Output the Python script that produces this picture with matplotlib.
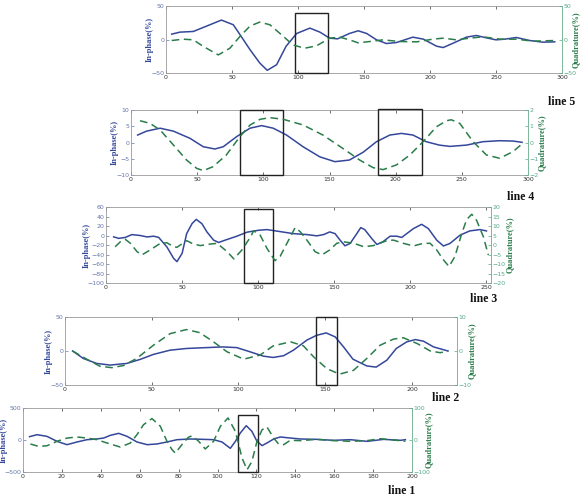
"""Five stacked in-phase / quadrature panels (line 1 .. line 5)."""
import matplotlib.pyplot as plt
from matplotlib.patches import Rectangle

BLUE = "#34479a"
GREEN = "#2a7d4a"

# ---- line 5 ----
l5_ix = [4.3, 10.6, 20.7, 29.5, 42, 51, 57, 63.6, 71, 76.7, 83.8, 91, 99, 109, 116.6, 124, 130,
         139, 145.6, 152, 159.5, 167, 174.6, 187, 195, 205, 210, 217.5, 227.6, 235, 242.7, 250,
         256.6, 265.5, 275.5, 285.6, 294.5]
l5_iy = [8, 11, 12, 19, 29, 22, 4.5, -15, -35, -46, -37.6, -10, 9, 17, 11, 2, 1,
         9, 13, 9, -0.5, -6, -4.5, 3.5, 0.5, -10, -12, -5.5, 3.5, 6, 2.5, -0.5,
         0.5, 3, -1.5, -4, -3.5]
l5_qx = [4.3, 13, 20.7, 28, 39.6, 48.4, 56, 63.6, 71, 78.7, 89, 96, 105, 114, 124, 131.7, 139,
         145.6, 154.4, 164.5, 177, 190, 202, 210, 220, 230, 240, 253, 265.5, 278, 294.5]
l5_qy = [-1.5, 0.5, -0.5, -10, -23, -13, 4.5, 20, 26, 22, 4.5, -8, -13, -9.5, 2, 3.5, -0.5,
         -5, -3, -0.5, -3, -3.5, 0.5, 2, -0.5, 2, 4, 0.5, 0.5, -2.5, -1.5]

# ---- line 4 ----
l4_ix = [5, 11.8, 22, 32, 44.5, 54.6, 63.4, 69.7, 79.8, 89.9, 98.7, 107.5, 117.5, 130, 142.6,
         154, 165, 175.4, 185.5, 195.6, 204.4, 213, 223, 233, 241, 253.5, 266, 278.6, 288.7, 295.5]
l4_iy = [2.3, 3.5, 4.4, 3.5, 1.3, -1.3, -2, -1.3, 1.8, 4.4, 5.2, 4.4, 2.3, -1.3, -4.4,
         -5.9, -5.4, -3, 0.25, 2.3, 2.8, 2.3, 0.25, -0.8, -1.2, -0.8, 0.25, 0.55, 0.45, 0.05]
l4_qx = [6.8, 14.3, 22, 32, 42, 49.6, 54.6, 62, 72, 82.3, 90, 97.6, 105, 115, 130, 145, 160,
         172.8, 183, 190.5, 200.6, 210.7, 220.7, 230.8, 238.4, 242, 248.4, 258.5, 268.6, 278.6,
         288.7, 296]
l4_qy = [1.34, 1.18, 0.77, -0.15, -1.08, -1.59, -1.73, -1.49, -0.77, 0.36, 1.08, 1.43, 1.53,
         1.43, 1.08, 0.46, -0.36, -1.08, -1.55, -1.67, -1.38, -0.77, 0.05, 0.97, 1.34, 1.4,
         1.18, 0.05, -0.77, -0.97, -0.56, -0.05]

# ---- line 3 ----
l3_ix = [5, 8.3, 12.7, 17, 22.5, 27, 31.3, 34.6, 40, 44.4, 46.6, 50, 53, 56.5, 59.3, 63, 66.3,
         70.7, 74, 78.3, 86, 92.6, 100, 105.7, 114.4, 123, 132, 138.5, 143, 147, 150.5, 153.8,
         157, 160.4, 164.8, 167.4, 170, 174.6, 178, 182, 186.7, 191, 194.3, 197.6, 202, 207.4,
         211.8, 217.3, 221.7, 226, 232.6, 239, 245.7, 250]
l3_iy = [-2.8, -6, -4, 2, 0, -3, -1.4, -4, -24, -48, -55, -37.6, 4, 25, 34, 25, 7.6,
         -9.7, -14.6, -9.7, -1.4, 7, 11, 12.5, 8.3, 4, 2, -0.7, 2, 7.6, 4, -9.7,
         -21.6, -16.7, 4, 16.7, 12.5, -6.3, -18.8, -13, -1.4, -1.4, -4, 4, 14.6, 23.6,
         14.6, -9.7, -22, -16.7, 0.7, 9.7, 12.5, 9.7]
l3_qx = [6, 9.4, 12.7, 16, 20.4, 23.6, 29, 35.7, 40, 44.4, 46.6, 51, 53, 57.5, 62, 68.5, 73,
         79.6, 84, 89.3, 95, 97, 101.3, 105.7, 111, 114.4, 120, 124.3, 127.6, 132, 137.4, 141.8,
         147, 151.6, 156, 162.8, 169.4, 175.7, 184.5, 188.8, 195.4, 202, 208.5, 213, 217.3,
         221.7, 225.4, 229.3, 233.7, 237, 240.3, 243.5, 248, 251.2]
l3_qy = [-0.9, 1.7, 3, 0.9, -3.5, -5.2, -2.6, 0.9, 1.2, -0.9, -1.2, 1.2, 2.3, 0.5, -0.3, 0.5,
         0.9, -3.5, -7.3, -2.6, 4.3, 7.5, 5.2, -1.7, -8.2, -6, 2.6, 9.2, 7, 2.6, -3.5, -5.2,
         -2.6, 0.9, 1.7, 0.9, -0.9, -0.3, 2.3, 2.6, 0.9, -0.5, 0.9, 0.9, -2.6,
         -7.8, -11.3, -6, 6, 13.4, 16.2, 13, 4.3, -5.2]

# ---- line 2 ----
l2_ix = [4.4, 10.6, 18.3, 26, 35.6, 43.3, 51, 60.6, 70, 81.7, 91, 99, 106.7, 114.4, 120, 126,
         131.7, 139.4, 145, 150.6, 155.8, 160.6, 166, 174, 179.4, 185.6, 191, 197, 202, 206.7,
         212.5, 220.8]
l2_iy = [0, -11, -18.3, -20.7, -18.3, -12.4, -5, 1.2, 3.7, 5, 6, 5, -1.2, -7.6, -9.5, -7,
         1.2, 15.9, 23, 26.6, 20.7, 6, -12, -22, -23.7, -13.4, 3.7, 13.4, 16.8, 14.4,
         6, 0]
l2_qx = [4.4, 12.5, 20.2, 27, 33.6, 41.3, 51, 60.6, 70, 77.7, 85.6, 93.3, 103, 112.5, 120, 130,
         137.5, 143.3, 151, 158.3, 166.3, 174, 181.7, 189.4, 195, 203, 210.6, 216.3, 221]
l2_qy = [0, -2.4, -4.5, -4.9, -4.3, -2.2, 1.7, 5.1, 6.3, 5.4, 2.7, -0.2, -2.4, -1.2, 1.5, 2.7,
         1.5, -1.7, -5.2, -6.8, -5.7, -2.2, 1.7, 3.5, 3.9, 2.2, 0, -0.5, 0]

# ---- line 1 ----
l1_ix = [3.4, 7.2, 12.3, 17.5, 22.6, 27.8, 32.9, 38, 41.5, 44.9, 49.2, 53.5, 58.6, 63.8, 68.9,
         74, 79.2, 86, 92.9, 98, 102.3, 106.6, 109.2, 111.7, 114.8, 117.7, 120.3, 122.9, 125.4,
         128.9, 132.3, 137.4, 142.6, 151, 159.7, 168.3, 176.9, 185.4, 194, 196.6]
l1_iy = [52, 83, 57, -21, -73, -31, 5, 16, 31, 73, 104, 57, -31, -73, -62,
         -31, 5, 16, 10, 5, -31, -130, -21, 109, 224, 135, -21, -88, -47,
         16, 47, 31, 16, 10, -5, 5, -21, 10, -5, 5]
l1_qx = [3.8, 8, 12.3, 17.5, 22.6, 27.8, 32.9, 38, 43.2, 50, 55.2, 58.6, 62, 66.3, 70.6, 74,
         76.6, 78.3, 81.7, 85, 86.9, 90.3, 93.7, 98, 101.5, 105.4, 109.2, 112.6, 115.2, 117.7,
         120.3, 122.9, 125.4, 128.9, 131.4, 134, 137.4, 142.6, 151, 159.7, 168.3, 176.9, 183.7,
         190.6, 196.6]
l1_qy = [-12.5, -20, -18, -4, 6, 9.4, 6, 1, -9.4, -22, -9.4, 16.7, 48, 67, 43, -4,
         -30, -41, -14.6, 8.3, 13.5, -4, -28, -4, 43, 69, 27, -56, -93, -67,
         -4, 32, 41, 6, -12.5, -14.6, -1, -2, 2, -2, -4, -2, 4,
         0, -4]

panels = [
    # rect, xlim, xticks, left ylim/ticks, right ylim/ticks, data, boxes, tag, tag pos,
    # label offsets (px from left / right spine)
    ([0.2823, 0.8528, 0.6735, 0.1351], (0, 300), range(0, 301, 50), (-50, 50), [-50, 0, 50],
     (-50, 50), [-50, 0, 50], (l5_ix, l5_iy, l5_qx, l5_qy), [(98, 123, -50, 39)],
     "line 5", (0.932, 0.783), (12, 10)),
    ([0.2228, 0.6472, 0.6752, 0.1310], (0, 300), range(0, 301, 50), (-10, 10), [-10, -5, 0, 5, 10],
     (-2, 2), [-2, -1, 0, 1, 2], (l4_ix, l4_iy, l4_qx, l4_qy),
     [(82, 115, -10, 10), (187, 220, -10, 10.4)], "line 4", (0.862, 0.59), (12, 10)),
    ([0.1803, 0.4294, 0.6548, 0.1532], (0, 253), range(0, 251, 50), (-100, 60), range(-100, 61, 20),
     (-20, 20), range(-20, 21, 5), (l3_ix, l3_iy, l3_qx, l3_qy), [(90.4, 110, -100, 55)],
     "line 3", (0.8, 0.385), (15, 14.5)),
    ([0.1105, 0.2238, 0.6667, 0.1371], (0, 226), range(0, 201, 50), (-50, 50), [-50, 0, 50],
     (-10, 10), [-10, 0, 10], (l2_ix, l2_iy, l2_qx, l2_qy), [(144.8, 156.7, -50, 50)],
     "line 2", (0.735, 0.185), (12, 11)),
    ([0.0391, 0.0484, 0.6616, 0.1290], (0, 200), range(0, 201, 20), (-500, 500), [-500, 0, 500],
     (-100, 100), [-100, 0, 100], (l1_ix, l1_iy, l1_qx, l1_qy), [(110.4, 120.7, -500, 396)],
     "line 1", (0.66, -0.003), (15, 13)),
]

W, H = 588, 496
fig = plt.figure(figsize=(W / 100, H / 100), dpi=100)
serif = "Liberation Serif"

for (rect, xlim, xt, yl, ylt, yr, yrt, (ix, iy, qx, qy), boxes, tag, tagpos,
     (off_l, off_r)) in panels:
    ax = fig.add_axes(rect)
    ax2 = ax.twinx()
    ax.plot(ix, iy, color=BLUE, lw=1.1, zorder=3)
    ax2.plot(qx, qy, color=GREEN, lw=1.1, ls=(0, (5, 3)))
    ax.set_xlim(*xlim)
    ax.set_ylim(*yl)
    ax2.set_ylim(*yr)
    ax.set_xticks(list(xt))
    ax.set_yticks(list(ylt))
    ax2.set_yticks(list(yrt))
    ax.tick_params(axis="x", direction="in", top=True, labelsize=4.5, length=2.5, width=0.5,
                   pad=1.5, colors="#333333")
    ax.tick_params(axis="y", direction="in", labelsize=4.5, length=2.5, width=0.5, pad=1.2,
                   colors="#6677aa")
    ax2.tick_params(axis="y", direction="in", labelsize=4.5, length=2.5, width=0.5, pad=1.2,
                    colors="#55aa88")
    for s in ax.spines.values():
        s.set_color("#9a9a9a")
        s.set_linewidth(0.6)
    ax2.spines["right"].set_color("#77bb99")
    ax2.spines["right"].set_linewidth(0.6)
    for s in ["left", "top", "bottom"]:
        ax2.spines[s].set_visible(False)
    wpx = rect[2] * W
    ax.set_ylabel("In-phase(%)", color=BLUE, fontsize=6.0, fontweight="bold", family=serif)
    ax.yaxis.set_label_coords(-off_l / wpx, 0.5)
    ax2.set_ylabel("Quadrature(%)", color=GREEN, fontsize=6.0, fontweight="bold", family=serif,
                   rotation=90)
    ax2.yaxis.set_label_coords(1 + off_r / wpx, 0.5)
    for x0, x1, y0, y1 in boxes:
        ax.add_patch(Rectangle((x0, y0), x1 - x0, y1 - y0, fill=False, ec="#222222", lw=1.0,
                               zorder=5, clip_on=False))
    fig.text(tagpos[0], tagpos[1], tag, fontsize=8.5, fontweight="bold", family=serif,
             color="#111111", va="bottom")

fig.savefig("out.png", dpi=100)
